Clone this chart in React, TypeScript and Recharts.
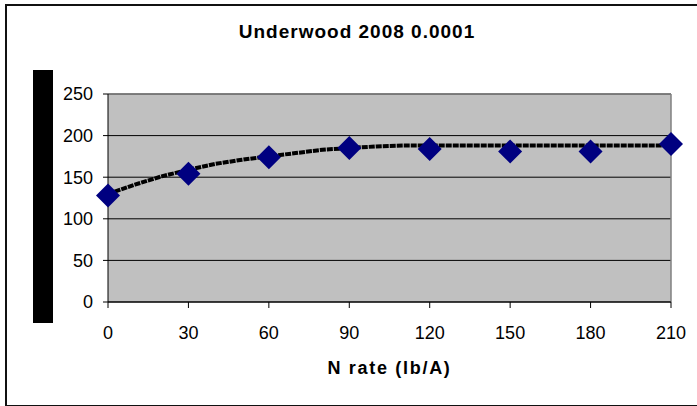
import {
  ComposedChart,
  Line,
  Scatter,
  XAxis,
  YAxis,
  CartesianGrid,
  ReferenceLine,
} from "recharts";

// measured yield by N rate
const rates = [0, 30, 60, 90, 120, 150, 180, 210];
const yields = [128, 154, 174, 185, 184, 181, 181, 190];

// fitted quadratic-plateau curve
const fitRates = [0, 10, 20, 30, 40, 50, 60, 70, 80, 90, 100, 110, 120, 130, 140, 150, 160, 170, 180, 190, 200, 210];
const fitYields = [130, 141, 151, 159, 166, 171, 175, 179, 183, 185, 187, 188, 188, 188, 188, 188, 188, 188, 188, 188, 188, 188];

const xTicks = [0, 30, 60, 90, 120, 150, 180, 210];
const yTicks = [0, 50, 100, 150, 200, 250];

const points = rates.map((r, i) => ({ rate: r, yield: yields[i] }));
const fit = fitRates.map((r, i) => ({ rate: r, fit: fitYields[i] }));

const FONT = "'Liberation Sans', Arial, sans-serif";

const Diamond = (props: any) => {
  const { cx, cy } = props;
  const d = 12;
  return (
    <polygon
      points={`${cx},${cy - d} ${cx + d},${cy} ${cx},${cy + d} ${cx - d},${cy}`}
      fill="#000080"
    />
  );
};

export default function App() {
  return (
    <div
      style={{
        position: "absolute",
        left: 0,
        top: 0,
        width: 697,
        height: 406,
        background: "#fff",
        overflow: "hidden",
        fontFamily: FONT,
      }}
    >
      <div
        style={{
          position: "absolute",
          left: 5,
          top: 4,
          width: 720,
          height: 399,
          border: "2px solid #111",
        }}
      />
      <div
        style={{
          position: "absolute",
          left: 0,
          width: 714,
          top: 21,
          textAlign: "center",
          fontSize: 19,
          fontWeight: "bold",
          letterSpacing: 1,
          lineHeight: "22px",
        }}
      >
        Underwood 2008 0.0001
      </div>
      <div
        style={{
          position: "absolute",
          left: 33,
          top: 70,
          width: 20,
          height: 253,
          background: "#000",
        }}
      />
      <div style={{ position: "absolute", left: 0, top: 0 }}>
        <ComposedChart
          width={697}
          height={406}
          margin={{ top: 94, right: 26, bottom: 24, left: 0 }}
          style={{ fontFamily: FONT }}
        >
          <CartesianGrid
            vertical={false}
            horizontal
            stroke="#000"
            fill="#C0C0C0"
            fillOpacity={1}
          />
          <XAxis
            type="number"
            dataKey="rate"
            domain={[0, 210]}
            ticks={xTicks}
            interval={0}
            height={80}
            stroke="#000"
            tickSize={6}
            tickMargin={18}
            tick={{ fill: "#000", fontSize: 18 }}
            allowDuplicatedCategory={false}
            label={{
              value: "N rate (lb/A)",
              position: "insideBottom",
              offset: 8,
              fill: "#000",
              fontSize: 18,
              fontWeight: "bold",
              letterSpacing: 1.7,
            }}
          />
          <YAxis
            type="number"
            domain={[0, 250]}
            ticks={yTicks}
            interval={0}
            width={108}
            stroke="#000"
            tickSize={5}
            tickMargin={10}
            tick={{ fill: "#000", fontSize: 18 }}
          />
          <ReferenceLine y={250} stroke="#808080" strokeWidth={1.5} />
          <ReferenceLine x={210} stroke="#808080" strokeWidth={1.5} />
          <Line
            data={fit}
            dataKey="fit"
            type="linear"
            stroke="#000"
            strokeWidth={4}
            strokeDasharray="6 1"
            dot={false}
            activeDot={false}
            isAnimationActive={false}
          />
          <Scatter
            data={points}
            dataKey="yield"
            shape={Diamond}
            isAnimationActive={false}
          />
        </ComposedChart>
      </div>
    </div>
  );
}
